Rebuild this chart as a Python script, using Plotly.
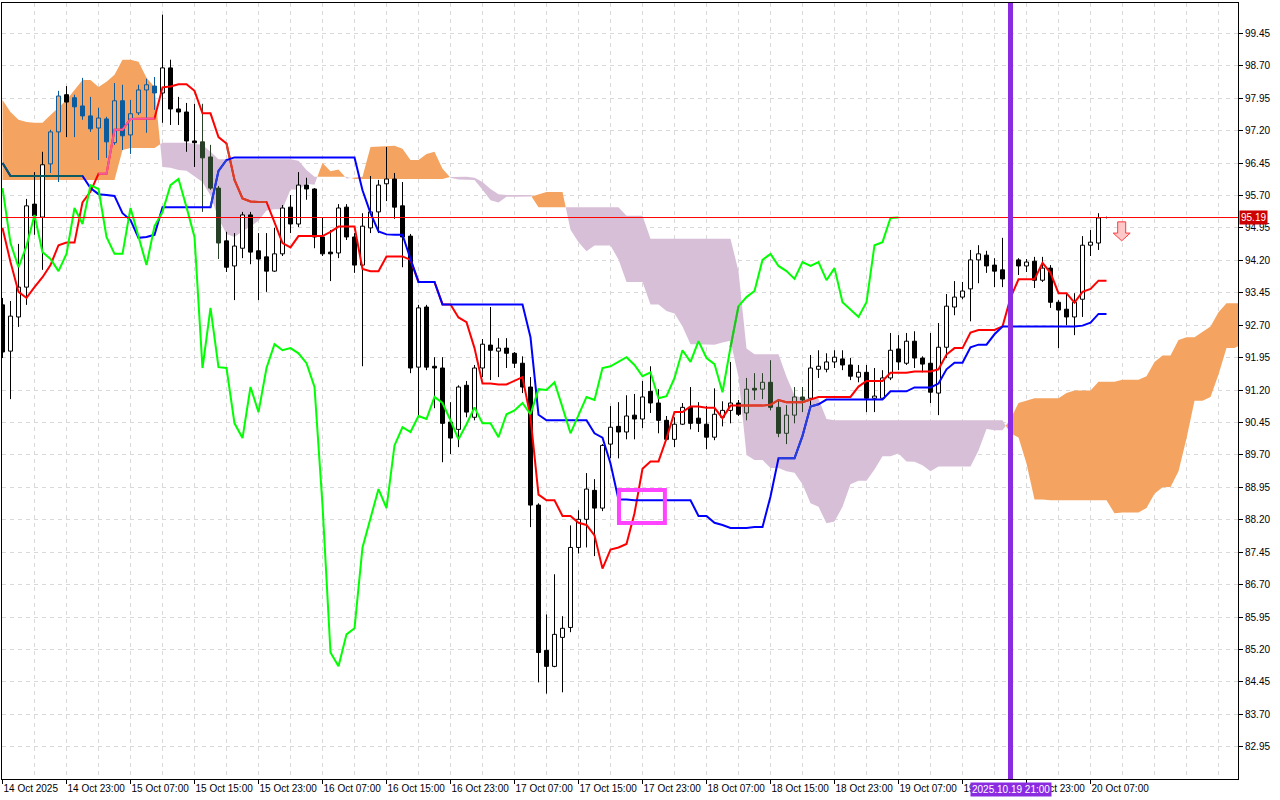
import plotly.graph_objects as go

# ------------------------------------------------------------------
# Data (hourly bars, bar 0 = 14 Oct 2025 15:00)
# ------------------------------------------------------------------
N_BARS = 139
CHIKOU_SHIFT = 26

bar_open = [
    93.17, 92.10, 92.89, 93.58, 95.50, 95.20, 96.43, 97.17, 98.03, 97.96,
    97.77, 97.54, 97.26, 97.47, 96.92, 97.89, 97.10, 97.61, 98.14, 98.23,
    98.07, 98.65, 97.70, 97.63, 96.96, 96.94, 96.59, 95.87, 94.65, 94.07,
    94.48, 95.25, 94.42, 94.28, 93.95, 94.35, 95.43, 95.04, 95.94, 95.85,
    94.74, 94.39, 94.37, 95.43, 94.74, 94.09, 94.95, 95.32, 95.97, 96.08,
    95.46, 94.76, 91.73, 93.12, 91.75, 91.71, 90.46, 90.29, 91.31, 90.57,
    91.71, 92.24, 92.10, 92.17, 92.05, 91.82, 91.27, 88.54, 85.18, 84.81,
    85.48, 85.71, 87.56, 88.21, 88.88, 88.47, 89.95, 90.36, 90.23, 90.62,
    90.53, 91.17, 90.90, 90.50, 90.06, 90.41, 90.80, 90.55, 90.41, 90.11,
    90.57, 90.73, 90.90, 90.67, 91.24, 91.22, 91.38, 90.80, 90.20, 90.62,
    91.04, 91.01, 91.68, 91.68, 91.85, 91.92, 91.78, 91.50, 91.61, 91.01,
    91.01, 91.48, 92.15, 91.82, 92.33, 91.94, 91.82, 91.13, 92.19, 93.12,
    93.35, 93.54, 94.21, 94.32, 94.09, 93.98, 93.77, 94.21, 94.07, 94.18,
    93.74, 94.02, 93.23, 93.07, 92.89, 93.30, 94.55, 94.60, 95.19,
]
bar_high = [
    93.33, 93.26, 94.58, 95.62, 96.24, 96.71, 97.22, 98.12, 98.23, 98.03,
    98.42, 97.98, 97.73, 97.52, 98.30, 98.26, 97.91, 98.26, 98.40, 98.44,
    99.88, 98.84, 97.98, 97.84, 97.82, 97.82, 96.87, 95.92, 94.86, 94.83,
    95.32, 95.32, 94.83, 94.83, 94.95, 95.48, 95.71, 96.24, 96.11, 95.87,
    95.18, 94.90, 95.50, 95.50, 94.83, 95.29, 96.15, 96.06, 96.82, 96.22,
    96.01, 94.81, 93.17, 93.17, 91.96, 91.96, 90.92, 91.31, 91.41, 91.78,
    92.38, 93.12, 92.40, 92.40, 92.08, 91.98, 91.50, 88.58, 86.01, 86.94,
    85.97, 88.07, 88.42, 89.28, 89.14, 89.95, 90.83, 90.92, 91.08, 91.11,
    91.41, 91.75, 91.22, 90.60, 90.57, 90.90, 91.27, 90.92, 90.83, 91.24,
    90.94, 91.85, 90.97, 91.48, 91.59, 91.59, 91.89, 90.97, 90.85, 91.27,
    91.27, 92.01, 92.12, 92.05, 92.12, 92.12, 91.94, 91.78, 91.78, 91.71,
    91.66, 92.52, 92.47, 92.52, 92.56, 91.98, 92.52, 92.75, 93.42, 93.72,
    93.70, 94.44, 94.55, 94.42, 94.25, 94.72, 94.16, 94.25, 94.23, 94.28,
    94.28, 94.09, 93.28, 93.44, 93.44, 94.76, 94.90, 95.29, 95.21,
]
bar_low = [
    91.94, 90.99, 92.66, 93.17, 94.79, 93.98, 96.22, 96.01, 97.05, 97.05,
    97.45, 97.17, 96.52, 96.57, 96.87, 96.75, 96.66, 97.56, 97.15, 97.68,
    97.38, 97.33, 97.33, 96.71, 96.36, 95.32, 95.83, 94.23, 93.93, 93.28,
    94.25, 94.11, 93.28, 93.47, 93.93, 94.30, 94.83, 94.97, 95.60, 94.48,
    94.30, 93.72, 94.25, 94.67, 93.91, 91.75, 94.83, 94.83, 95.57, 95.16,
    94.04, 91.59, 90.57, 91.66, 90.78, 89.53, 89.72, 89.88, 90.57, 90.50,
    91.50, 91.43, 91.50, 91.71, 91.71, 91.13, 88.03, 84.44, 84.18, 84.79,
    84.21, 85.60, 87.42, 87.56, 87.36, 88.40, 89.62, 89.62, 90.06, 90.06,
    90.32, 90.67, 90.20, 90.04, 89.88, 90.39, 90.29, 90.23, 89.83, 90.04,
    90.36, 90.43, 90.60, 90.50, 90.97, 90.99, 90.73, 90.11, 89.95, 90.43,
    90.69, 90.85, 91.48, 91.61, 91.71, 91.66, 91.43, 91.38, 90.69, 90.69,
    90.97, 91.43, 91.66, 91.78, 91.71, 91.61, 90.90, 90.62, 91.94, 92.93,
    93.30, 92.79, 93.67, 93.91, 93.58, 93.58, 93.63, 93.86, 93.93, 93.56,
    93.70, 93.10, 92.17, 92.70, 92.47, 92.89, 94.30, 94.44, 95.17,
]
bar_close = [
    92.08, 92.91, 93.58, 95.46, 95.23, 96.41, 97.17, 98.00, 97.86, 97.75,
    97.54, 97.24, 97.49, 96.94, 97.89, 97.08, 97.59, 98.14, 98.26, 98.07,
    98.65, 97.70, 97.63, 96.96, 96.92, 96.57, 95.87, 94.60, 94.04, 94.53,
    95.25, 94.39, 94.23, 93.95, 94.35, 95.41, 95.04, 95.94, 95.85, 94.74,
    94.35, 94.35, 95.41, 94.74, 94.09, 94.99, 95.32, 95.94, 96.08, 95.43,
    94.74, 91.71, 93.10, 91.73, 91.71, 90.43, 90.09, 91.27, 90.69, 91.71,
    92.26, 92.12, 92.17, 92.05, 91.82, 91.27, 88.54, 85.13, 84.81, 85.55,
    85.69, 87.56, 88.21, 88.91, 88.47, 89.92, 90.34, 90.23, 90.60, 90.53,
    91.04, 90.90, 90.50, 90.06, 90.41, 90.80, 90.43, 90.43, 90.11, 90.64,
    90.73, 90.90, 90.64, 91.22, 91.20, 91.38, 90.80, 90.20, 90.62, 91.04,
    90.97, 91.71, 91.75, 91.85, 91.96, 91.78, 91.52, 91.61, 91.01, 91.06,
    91.48, 92.12, 91.85, 92.33, 91.94, 91.80, 91.15, 92.19, 93.14, 93.35,
    93.49, 94.21, 94.35, 94.07, 93.95, 93.77, 94.16, 94.07, 94.16, 93.74,
    94.02, 93.23, 93.05, 92.89, 93.23, 94.55, 94.62, 95.18, 95.19,
]

# Tenkan-sen (red), one value per bar
tenkan = [
    94.95, 94.16, 93.47, 93.33, 93.58, 93.81, 94.09, 94.55, 94.61, 94.61,
    95.54, 95.79, 96.20, 96.20, 97.22, 97.22, 97.47, 97.47, 97.47, 97.48,
    98.20, 98.22, 98.27, 98.27, 98.12, 97.60, 97.60, 97.05, 96.90, 96.06,
    95.63, 95.56, 95.55, 95.55, 95.08, 94.60, 94.50, 94.76, 94.76, 94.76,
    94.76, 94.86, 94.98, 94.98, 94.98, 94.00, 93.95, 93.95, 94.29, 94.29,
    94.29, 94.21, 93.70, 93.70, 93.70, 93.18, 93.18, 92.88, 92.77, 92.17,
    91.35, 91.35, 91.33, 91.33, 91.42, 91.50, 90.57, 88.78, 88.65, 88.65,
    88.29, 88.29, 88.13, 88.08, 87.84, 87.07, 87.51, 87.56, 87.64, 88.35,
    89.38, 89.55, 89.55, 90.08, 90.69, 90.69, 90.82, 90.82, 90.79, 90.79,
    90.55, 90.84, 90.84, 90.84, 90.84, 90.84, 90.86, 90.97, 90.92, 90.92,
    90.92, 90.98, 91.04, 91.04, 91.04, 91.04, 91.04, 91.28, 91.41, 91.41,
    91.41, 91.60, 91.60, 91.60, 91.63, 91.63, 91.63, 91.68, 92.02, 92.17,
    92.17, 92.53, 92.59, 92.59, 92.59, 92.67, 93.33, 93.76, 93.76, 93.76,
    94.14, 93.91, 93.44, 93.44, 93.22, 93.47, 93.54, 93.73, 93.73,
]
# Kijun-sen (blue), one value per bar
kijun = [
    96.45, 96.15, 96.15, 96.15, 96.15, 96.15, 96.15, 96.15, 96.15, 96.15,
    96.15, 95.87, 95.73, 95.71, 95.69, 95.29, 95.13, 94.72, 94.74, 94.79,
    95.43, 95.43, 95.43, 95.43, 95.43, 95.43, 95.43, 96.27, 96.52, 96.58,
    96.58, 96.58, 96.58, 96.58, 96.58, 96.58, 96.58, 96.58, 96.58, 96.58,
    96.58, 96.58, 96.58, 96.58, 96.58, 95.82, 95.29, 94.87, 94.80, 94.79,
    94.79, 94.23, 93.70, 93.70, 93.70, 93.18, 93.18, 93.18, 93.18, 93.18,
    93.18, 93.18, 93.18, 93.18, 93.18, 93.18, 92.42, 90.63, 90.50, 90.50,
    90.50, 90.50, 90.50, 90.50, 90.20, 90.10, 89.50, 88.67, 88.67, 88.65,
    88.65, 88.65, 88.65, 88.65, 88.65, 88.65, 88.65, 88.29, 88.29, 88.13,
    88.08, 88.01, 88.01, 88.01, 88.03, 88.03, 88.74, 89.62, 89.62, 89.62,
    90.14, 90.82, 90.87, 90.98, 90.98, 90.98, 90.98, 90.98, 90.98, 90.98,
    90.98, 91.17, 91.17, 91.17, 91.26, 91.26, 91.26, 91.35, 91.68, 91.83,
    91.83, 92.19, 92.25, 92.25, 92.49, 92.67, 92.67, 92.67, 92.67, 92.67,
    92.67, 92.67, 92.67, 92.67, 92.67, 92.69, 92.76, 92.96, 92.96,
]
# Senkou span A / B as displayed (index = bar position on the chart, extends 26 bars ahead)
span_a = [
    97.91, 97.63, 97.45, 97.40, 97.38, 97.38, 97.56, 97.73, 97.91, 98.14,
    98.37, 98.37, 98.21, 98.33, 98.49, 98.84, 98.84, 98.79, 98.42, 98.21,
    96.36, 96.34, 96.29, 96.27, 96.13, 96.01, 95.70, 95.16, 94.81, 94.74,
    94.87, 94.98, 95.12, 95.35, 95.38, 95.38, 95.84, 95.83, 95.97, 95.95,
    96.45, 96.26, 96.30, 96.09, 96.11, 96.13, 96.82, 96.83, 96.85, 96.85,
    96.78, 96.52, 96.52, 96.66, 96.71, 96.32, 96.11, 96.07, 96.06, 96.06,
    95.83, 95.59, 95.54, 95.67, 95.67, 95.67, 95.67, 95.72, 95.78, 95.78,
    95.78, 94.91, 94.62, 94.41, 94.54, 94.54, 94.54, 94.22, 93.70, 93.70,
    93.70, 93.18, 93.18, 93.03, 92.97, 92.67, 92.26, 92.26, 92.25, 92.25,
    92.30, 92.34, 91.50, 89.70, 89.58, 89.58, 89.40, 89.40, 89.32, 89.29,
    89.02, 88.58, 88.50, 88.12, 88.16, 88.50, 89.02, 89.10, 89.10, 89.36,
    89.67, 89.67, 89.73, 89.55, 89.54, 89.46, 89.32, 89.43, 89.43, 89.43,
    89.43, 89.43, 89.80, 90.30, 90.27, 90.27, 90.53, 90.90, 90.95, 91.01,
    91.01, 91.01, 91.01, 91.13, 91.19, 91.19, 91.19, 91.39, 91.39, 91.39,
    91.44, 91.44, 91.44, 91.52, 91.85, 92.00, 92.00, 92.36, 92.42, 92.42,
    92.54, 92.67, 93.00, 93.21, 93.21, 93.21, 93.40,
]
span_b = [
    96.06, 96.06, 96.06, 96.06, 96.06, 96.06, 96.06, 96.06, 96.06, 96.06,
    96.06, 96.06, 96.06, 96.06, 96.06, 96.75, 96.80, 96.80, 96.80, 96.80,
    96.92, 96.92, 96.92, 96.92, 96.89, 96.87, 96.71, 96.54, 96.54, 96.54,
    96.54, 96.54, 96.54, 96.54, 96.54, 96.54, 96.54, 96.50, 96.29, 96.13,
    96.13, 96.13, 96.13, 96.13, 96.08, 96.08, 96.08, 96.08, 96.08, 96.08,
    96.08, 96.08, 96.08, 96.08, 96.08, 96.08, 96.13, 96.13, 96.13, 96.11,
    96.01, 95.85, 95.73, 95.71, 95.71, 95.71, 95.71, 95.43, 95.43, 95.43,
    95.43, 95.43, 95.43, 95.43, 95.43, 95.43, 95.43, 95.43, 95.23, 95.23,
    95.23, 94.70, 94.70, 94.70, 94.70, 94.70, 94.70, 94.70, 94.70, 94.70,
    94.70, 94.70, 93.95, 92.16, 92.03, 92.03, 92.03, 92.03, 91.51, 91.08,
    91.01, 91.00, 91.00, 90.53, 90.50, 90.50, 90.50, 90.50, 90.50, 90.50,
    90.50, 90.50, 90.50, 90.50, 90.50, 90.50, 90.50, 90.50, 90.50, 90.50,
    90.50, 90.50, 90.50, 90.50, 90.50, 90.50, 90.20, 90.10, 89.50, 88.67,
    88.67, 88.65, 88.65, 88.65, 88.65, 88.65, 88.65, 88.65, 88.65, 88.35,
    88.37, 88.37, 88.37, 88.47, 88.80, 88.95, 88.96, 89.32, 90.08, 90.95,
    90.95, 91.04, 91.56, 92.17, 92.17, 92.27, 92.27,
]

tick_bars = [0, 8, 16, 24, 32, 40, 48, 56, 64, 72, 80, 88, 96, 104, 112, 120, 128, 136]
tick_labels = [
    "14 Oct 2025", "14 Oct 23:00", "15 Oct 07:00", "15 Oct 15:00", "15 Oct 23:00",
    "16 Oct 07:00", "16 Oct 15:00", "16 Oct 23:00", "17 Oct 07:00", "17 Oct 15:00",
    "17 Oct 23:00", "18 Oct 07:00", "18 Oct 15:00", "18 Oct 23:00", "19 Oct 07:00",
    "19 Oct 15:00", "19 Oct 23:00", "20 Oct 07:00",
]
price_ticks = [
    82.95, 83.70, 84.45, 85.20, 85.95, 86.70, 87.45, 88.20, 88.95, 89.70, 90.45, 91.20,
    91.95, 92.70, 93.45, 94.20, 94.95, 95.70, 96.45, 97.20, 97.95, 98.70, 99.45,
]
last_price = 95.19
marker_bar = 126
marker_label = "2025.10.19 21:00"
box_bars = (77.06, 82.8)
box_prices = (88.125, 88.89)
signal_bar = 139.9
signal_top, signal_neck, signal_tip = 95.09, 94.83, 94.65

# ------------------------------------------------------------------
# Styling
# ------------------------------------------------------------------
ORANGE = "#F4A460"
THISTLE = "#D8BFD8"
RED = "#FF0000"
BLUE = "#0000FF"
LIME = "#00FF00"
GRID = "#D9D9D9"
FONT = "Liberation Sans, Arial, sans-serif"
X0 = -0.0625
X1 = X0 + 1236 / 8.0
Y0, Y1 = 82.205, 100.151
HALF_BODY = 0.25


def xor_cloud(color, cloud):
    c = int(color.lstrip("#"), 16)
    k = int(cloud.lstrip("#"), 16)
    return "#%06X" % (c ^ (~k & 0xFFFFFF))


def cloud_polygons(a, b):
    runs, cur = [], None
    for k in range(len(a)):
        bull = a[k] >= b[k]
        if cur is None:
            cur = {"bull": bull, "x": [], "a": [], "b": []}
        elif bull != cur["bull"]:
            d0, d1 = a[k - 1] - b[k - 1], a[k] - b[k]
            t = d0 / (d0 - d1)
            xc = k - 1 + t
            yc = a[k - 1] + t * (a[k] - a[k - 1])
            cur["x"].append(xc); cur["a"].append(yc); cur["b"].append(yc)
            runs.append(cur)
            cur = {"bull": bull, "x": [xc], "a": [yc], "b": [yc]}
        cur["x"].append(k); cur["a"].append(a[k]); cur["b"].append(b[k])
    runs.append(cur)
    out = {True: ([], []), False: ([], [])}
    for r in runs:
        px, py = out[r["bull"]]
        px += r["x"] + r["x"][::-1] + [None]
        py += r["a"] + r["b"][::-1] + [None]
    return out


def cloud_at(pos, value):
    """cloud colour if value lies inside the cloud at integer position pos."""
    if pos >= len(span_a):
        return None
    a, b = span_a[pos], span_b[pos]
    if min(a, b) <= value <= max(a, b):
        return ORANGE if a >= b else THISTLE
    return None


def line_traces(xs, ys, color, width=2):
    traces = [go.Scatter(x=xs, y=ys, mode="lines", line=dict(color=color, width=width),
                         hoverinfo="skip")]
    segs = {ORANGE: ([], []), THISTLE: ([], [])}
    last = {ORANGE: None, THISTLE: None}
    for k in range(len(xs) - 1):
        x0, x1 = xs[k], xs[k + 1]
        if x1 >= len(span_a):
            continue
        ym = (ys[k] + ys[k + 1]) / 2
        am = (span_a[x0] + span_a[x1]) / 2
        bm = (span_b[x0] + span_b[x1]) / 2
        if min(am, bm) <= ym <= max(am, bm):
            cl = ORANGE if am >= bm else THISTLE
            sx, sy = segs[cl]
            if last[cl] == x0:
                sx.append(x1); sy.append(ys[k + 1])
            else:
                sx += [None, x0, x1]; sy += [None, ys[k], ys[k + 1]]
            last[cl] = x1
    for cl, (sx, sy) in segs.items():
        if sx:
            traces.append(go.Scatter(x=sx, y=sy, mode="lines",
                                     line=dict(color=xor_cloud(color, cl), width=width),
                                     hoverinfo="skip"))
    return traces


fig = go.Figure()

# --- Ichimoku cloud
polys = cloud_polygons(span_a, span_b)
for bull, col in ((True, ORANGE), (False, THISTLE)):
    px, py = polys[bull]
    fig.add_trace(go.Scatter(x=px, y=py, mode="lines", fill="toself", fillcolor=col,
                             line=dict(width=0, color=col), hoverinfo="skip"))

# --- candles (MT4 XOR look inside the cloud)
wicks = {}
bodies = {}
for i in range(N_BARS):
    o, h, l, c = bar_open[i], bar_high[i], bar_low[i], bar_close[i]
    cl = cloud_at(i, (o + c) / 2)
    ink = "#000000" if cl is None else xor_cloud("#000000", cl)
    if c >= o:
        fill = "#FFFFFF" if cl is None else cl
    else:
        fill = ink
    wx, wy = wicks.setdefault(ink, ([], []))
    wx += [i, i, None]
    wy += [l, h, None]
    bx, by = bodies.setdefault((fill, ink), ([], []))
    bx += [i - HALF_BODY, i + HALF_BODY, i + HALF_BODY, i - HALF_BODY, i - HALF_BODY, None]
    by += [o, o, c, c, o, None]

for ink, (wx, wy) in wicks.items():
    fig.add_trace(go.Scatter(x=wx, y=wy, mode="lines", line=dict(color=ink, width=1),
                             hoverinfo="skip"))
for (fill, ink), (bx, by) in bodies.items():
    fig.add_trace(go.Scatter(x=bx, y=by, mode="lines", fill="toself", fillcolor=fill,
                             line=dict(color=ink, width=1), hoverinfo="skip"))

# --- Ichimoku lines
bars = list(range(N_BARS))
for t in line_traces(bars, tenkan, RED):
    fig.add_trace(t)
for t in line_traces(bars, kijun, BLUE):
    fig.add_trace(t)
chikou_x = list(range(N_BARS - CHIKOU_SHIFT))
chikou_y = bar_close[CHIKOU_SHIFT:]
for t in line_traces(chikou_x, chikou_y, LIME):
    fig.add_trace(t)

# --- sell-signal arrow
sb = signal_bar
fig.add_trace(go.Scatter(
    x=[sb - 0.5, sb + 0.5, sb + 0.5, sb + 1.06, sb, sb - 1.06, sb - 0.5, sb - 0.5],
    y=[signal_top, signal_top, signal_neck, signal_neck, signal_tip, signal_neck, signal_neck, signal_top],
    mode="lines", fill="toself", fillcolor="#FFC8C8", line=dict(color="#FF3C3C", width=1),
    hoverinfo="skip"))

fig.update_layout(
    width=1280, height=800,
    margin=dict(l=2, r=42, t=3, b=21, autoexpand=False),
    paper_bgcolor="white", plot_bgcolor="white",
    showlegend=False, hovermode=False,
    font=dict(family=FONT, size=10, color="black"),
    xaxis=dict(
        range=[X0, X1], tickmode="array", tickvals=tick_bars, ticktext=tick_labels,
        ticks="outside", ticklen=4, tickcolor="black", ticklabelposition="outside right",
        tickangle=0, automargin=False,
        showgrid=True, gridcolor=GRID, griddash="4px,4px", gridwidth=1,
        minor=dict(tickmode="linear", tick0=0, dtick=4, showgrid=True, gridcolor=GRID,
                   griddash="4px,4px", gridwidth=1, ticks=""),
        showline=True, linecolor="black", linewidth=1, mirror=True, zeroline=False,
        fixedrange=True,
    ),
    yaxis=dict(
        side="right", range=[Y0, Y1], tickmode="array", tickvals=price_ticks,
        ticktext=["%.2f" % p for p in price_ticks], automargin=False,
        ticks="outside", ticklen=4, tickcolor="black",
        showgrid=True, gridcolor=GRID, griddash="4px,4px", gridwidth=1,
        showline=True, linecolor="black", linewidth=1, mirror=True, zeroline=False,
        fixedrange=True,
    ),
    shapes=[
        dict(type="line", xref="paper", x0=0, x1=1, yref="y", y0=last_price, y1=last_price,
             line=dict(color="#FF0000", width=1), layer="above"),
        dict(type="rect", xref="x", yref="y", x0=box_bars[0], x1=box_bars[1],
             y0=box_prices[0], y1=box_prices[1], line=dict(color="#FF44FF", width=4),
             fillcolor="rgba(0,0,0,0)", layer="above"),
        dict(type="line", xref="x", x0=marker_bar, x1=marker_bar, yref="paper", y0=0, y1=1,
             line=dict(color="#8A2BE2", width=5), layer="above"),
    ],
    annotations=[
        dict(xref="paper", x=1, xanchor="left", xshift=1, yref="y", y=last_price,
             yanchor="middle", text="%.2f" % last_price, showarrow=False,
             font=dict(family=FONT, size=10, color="white"), bgcolor="#CC0000", borderpad=1),
        dict(xref="x", x=marker_bar, xanchor="center", yref="paper", y=0, yanchor="top",
             yshift=-3, text=marker_label, showarrow=False,
             font=dict(family=FONT, size=10, color="white"), bgcolor="#8A2BE2", borderpad=1),
    ],
)

fig.write_html(
    "out.html",
    config={"displayModeBar": False},
    post_script="document.body.style.margin='0px';document.body.style.overflow='hidden';",
)
